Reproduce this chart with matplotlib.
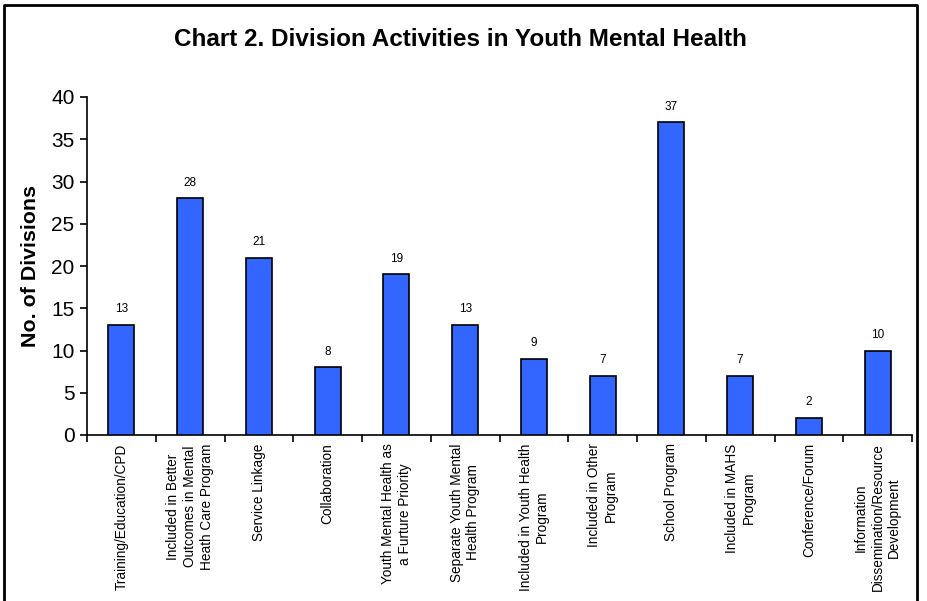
import matplotlib
matplotlib.use("Agg")
import matplotlib.pyplot as plt
import numpy as np
from matplotlib.lines import Line2D

plt.rcParams['font.family'] = ['Liberation Sans', 'DejaVu Sans']

categories = [
    "Training/Education/CPD",
    "Included in Better\nOutcomes in Mental\nHeath Care Program",
    "Service Linkage",
    "Collaboration",
    "Youth Mental Health as\na Furture Priority",
    "Separate Youth Mental\nHealth Program",
    "Included in Youth Health\nProgram",
    "Included in Other\nProgram",
    "School Program",
    "Included in MAHS\nProgram",
    "Conference/Forum",
    "Information\nDissemination/Resource\nDevelopment",
]
values = [13, 28, 21, 8, 19, 13, 9, 7, 37, 7, 2, 10]
yticks = [0, 5, 10, 15, 20, 25, 30, 35, 40]
title = "Chart 2. Division Activities in Youth Mental Health"
ylabel = "No. of Divisions"

W, H = 927, 601
fig = plt.figure(figsize=(W / 100, H / 100), dpi=100)
ax = fig.add_axes([87 / W, 1 - 435 / H, (912 - 87) / W, (435 - 97) / H])

x = np.arange(len(categories))
ax.bar(x, values, width=0.38, color="#3366FF", edgecolor="black", linewidth=1.2, zorder=3)
for xi, v in zip(x, values):
    ax.annotate(str(v), (xi, v), xytext=(0, 7), textcoords="offset points",
                ha="center", va="bottom", fontsize=8.5)

ax.set_xlim(-0.5, len(categories) - 0.5)
ax.set_ylim(0, 40)
ax.set_yticks(yticks)
ax.set_yticklabels([str(t) for t in yticks], fontsize=15)
ax.set_xticks(x)
ax.set_xticklabels(categories, rotation=90, fontsize=9.8, ha="center", va="top",
                   multialignment="center", linespacing=1.25)
ax.set_xticks(np.arange(len(categories) + 1) - 0.5, minor=True)
ax.tick_params(axis="x", which="major", length=0, pad=6)
ax.tick_params(axis="x", which="minor", length=5, width=1.2, direction="out")
ax.tick_params(axis="y", length=5, width=1.2, direction="out", pad=4)
for s in ["top", "right"]:
    ax.spines[s].set_visible(False)
for s in ["left", "bottom"]:
    ax.spines[s].set_linewidth(1.2)
ax.set_ylabel(ylabel, fontsize=15.4, fontweight="bold")
ax.yaxis.label.set_verticalalignment("center")
ax.yaxis.set_label_coords(-(87 - 31) / (912 - 87), 0.5)

fig.text(460.5 / W, 1 - 46 / H, title, ha="center", va="baseline", fontsize=17.5, fontweight="bold")

# outer frame
l, r, t, b = 4 / W, 917 / W, 1 - 5 / H, -0.02
fig.add_artist(Line2D([l, l, r, r], [b, t, t, b], color="black", linewidth=2,
                      transform=fig.transFigure))

fig.savefig("out.png", dpi=100, facecolor="white")
